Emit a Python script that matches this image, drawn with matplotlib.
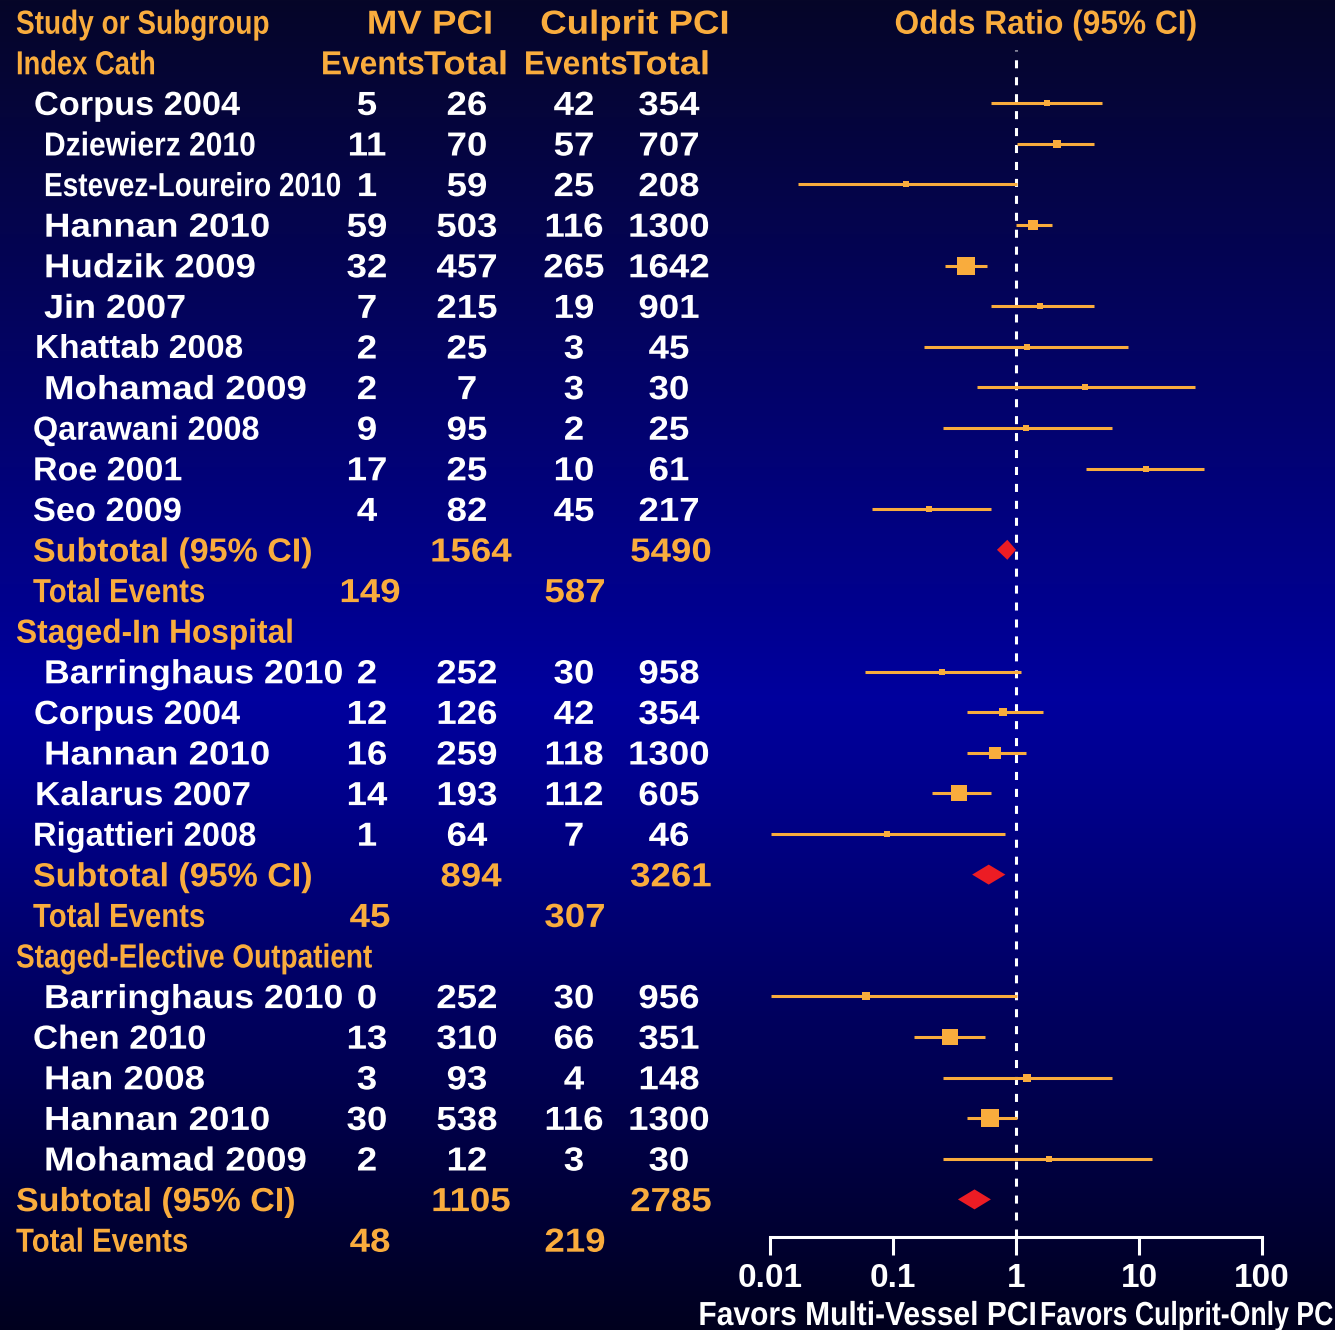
import matplotlib
matplotlib.use("Agg")
import matplotlib.pyplot as plt
import numpy as np
from matplotlib.patches import Polygon
from matplotlib.patheffects import AbstractPathEffect
from matplotlib.transforms import Affine2D
from matplotlib.ticker import NullLocator, FixedLocator, FixedFormatter

plt.rcParams['font.family'] = ['Liberation Sans', 'DejaVu Sans']
plt.rcParams['font.weight'] = 'bold'
plt.rcParams['lines.scale_dashes'] = False

# ---- data ----
g1_names = ["Corpus 2004", "Dziewierz 2010", "Estevez-Loureiro 2010", "Hannan 2010",
            "Hudzik 2009", "Jin 2007", "Khattab 2008", "Mohamad 2009",
            "Qarawani 2008", "Roe 2001", "Seo 2009"]
g1_mv_events = [5, 11, 1, 59, 32, 7, 2, 2, 9, 17, 4]
g1_mv_total = [26, 70, 59, 503, 457, 215, 25, 7, 95, 25, 82]
g1_cul_events = [42, 57, 25, 116, 265, 19, 3, 3, 2, 10, 45]
g1_cul_total = [354, 707, 208, 1300, 1642, 901, 45, 30, 25, 61, 217]
g1_or = [1.78, 2.15, 0.127, 1.37, 0.39, 1.57, 1.24, 3.63, 1.2, 11.3, 0.196]
g1_lo = [0.63, 1.02, 0.017, 1.0, 0.265, 0.63, 0.18, 0.48, 0.255, 3.71, 0.067]
g1_hi = [5.0, 4.27, 1.01, 1.98, 0.58, 4.27, 8.09, 28.4, 6.03, 33.8, 0.63]
g1_weight = [5, 7, 6, 10, 18, 5, 5, 5, 6, 6, 6]
g1_sub = [0.85, 0.70, 1.0]          # pooled OR, lower, upper
g1_sub_totals = [1564, 5490]
g1_sub_events = [149, 587]

g2_title = "Staged-In Hospital"
g2_names = ["Barringhaus 2010", "Corpus 2004", "Hannan 2010", "Kalarus 2007", "Rigattieri 2008"]
g2_mv_events = [2, 12, 16, 14, 1]
g2_mv_total = [252, 126, 259, 193, 64]
g2_cul_events = [30, 42, 118, 112, 7]
g2_cul_total = [958, 354, 1300, 605, 46]
g2_or = [0.249, 0.79, 0.68, 0.347, 0.089]
g2_lo = [0.059, 0.40, 0.40, 0.207, 0.0102]
g2_hi = [1.09, 1.65, 1.2, 0.63, 0.81]
g2_weight = [6, 7, 11, 15, 6]
g2_sub = [0.60, 0.44, 0.82]
g2_sub_totals = [894, 3261]
g2_sub_events = [45, 307]

g3_title = "Staged-Elective Outpatient"
g3_names = ["Barringhaus 2010", "Chen 2010", "Han 2008", "Hannan 2010", "Mohamad 2009"]
g3_mv_events = [0, 13, 3, 30, 2]
g3_mv_total = [252, 310, 93, 538, 12]
g3_cul_events = [30, 66, 4, 116, 3]
g3_cul_total = [956, 351, 148, 1300, 30]
g3_or = [0.060, 0.29, 1.23, 0.61, 1.84]
g3_lo = [0.0102, 0.147, 0.255, 0.40, 0.255]
g3_hi = [1.01, 0.557, 6.03, 1.01, 12.7]
g3_weight = [8, 15, 7, 18, 6]
g3_sub = [0.46, 0.337, 0.625]
g3_sub_totals = [1105, 2785]
g3_sub_events = [48, 219]

x_ticks = [0.01, 0.1, 1, 10, 100]
x_ticklabels = ["0.01", "0.1", "1", "10", "100"]

# ---- layout ----
W, H = 1335, 1330
ROW0, DY = 22, 40.6
ORANGE = "#F9AC3D"
RED = "#EC1C24"
FS = 24

# the original slide squeezes/stretches some strings: (left x, horizontal scale)
NAME_STYLE = {
    "Corpus 2004": (34, 1.03), "Dziewierz 2010": (44, 0.9),
    "Estevez-Loureiro 2010": (44, 0.84), "Hannan 2010": (44, 1.1),
    "Hudzik 2009": (44, 1.1), "Jin 2007": (44, 1.08), "Khattab 2008": (35, 1.0),
    "Mohamad 2009": (44, 1.1), "Qarawani 2008": (33, 0.97), "Roe 2001": (33, 1.02),
    "Seo 2009": (33, 1.03), "Barringhaus 2010": (44, 1.07), "Kalarus 2007": (35, 1.05),
    "Rigattieri 2008": (33, 0.98), "Chen 2010": (33, 1.04), "Han 2008": (44, 1.1),
}


class Squeeze(AbstractPathEffect):
    """Scale text glyphs horizontally about left / centre / right."""

    def __init__(self, sx, anchor="left"):
        super().__init__()
        self.sx, self.anchor = sx, anchor

    def draw_path(self, renderer, gc, tpath, affine, rgbFace=None):
        ext = tpath.get_extents()
        x0 = {"left": 0.0, "center": (ext.x0 + ext.x1) / 2, "right": ext.x1}[self.anchor]
        t = Affine2D().translate(-x0, 0).scale(self.sx, 1).translate(x0, 0) + affine
        renderer.draw_path(gc, tpath, t, rgbFace)


def row_of(px):
    return (px - ROW0) / DY


fig = plt.figure(figsize=(W / 100, H / 100), dpi=100)

# background gradient
bg = fig.add_axes([0, 0, 1, 1])
yy = np.arange(H)
stops = [0, 700, H]
grad = np.zeros((H, 1, 3))
grad[:, 0, 0] = np.interp(yy, stops, [6, 0, 0]) / 255
grad[:, 0, 1] = np.interp(yy, stops, [6, 0, 0]) / 255
grad[:, 0, 2] = np.interp(yy, stops, [40, 158, 30]) / 255
bg.imshow(grad, aspect="auto", extent=[0, 1, 0, 1])
bg.axis("off")

# table axes (x in pixel columns, y in rows)
tab = fig.add_axes([0, 0, 1, 1])
tab.set_xlim(0, W)
tab.set_ylim(row_of(H), row_of(0))
tab.axis("off")

BASE = 11.7 / DY   # baseline offset below row centre


def put(x, row, s, color="white", ha="left", sx=1.0):
    t = tab.text(x, row + BASE, s, color=color, ha=ha, va="baseline", fontsize=FS,
                 fontweight="bold")
    if sx != 1.0:
        t.set_path_effects([Squeeze(sx, ha)])
    return t


COLS = [367, 467, 574, 669]
NUM_SX = 1.1

# headers
put(16, 0, "Study or Subgroup", ORANGE, sx=0.84)
put(430, 0, "MV PCI", ORANGE, ha="center", sx=1.1)
put(635, 0, "Culprit PCI", ORANGE, ha="center", sx=1.1)
put(1046, 0, "Odds Ratio (95% CI)", ORANGE, ha="center", sx=0.95)
put(16, 1, "Index Cath", ORANGE, sx=0.82)
put(373, 1, "Events", ORANGE, ha="center", sx=0.95)
put(466, 1, "Total", ORANGE, ha="center", sx=1.09)
put(576, 1, "Events", ORANGE, ha="center", sx=0.95)
put(668, 1, "Total", ORANGE, ha="center", sx=1.09)

# forest axes
fx0, fx1, fy1 = 770, 1262, 1237
ax = fig.add_axes([fx0 / W, (H - fy1) / H, (fx1 - fx0) / W, fy1 / H])
ax.set_xscale("log")
ax.set_xlim(0.01, 100)
ax.set_ylim(row_of(fy1), row_of(0))
ax.patch.set_visible(False)
for side in ["top", "left", "right"]:
    ax.spines[side].set_visible(False)
ax.spines["bottom"].set_color("white")
ax.spines["bottom"].set_linewidth(2.2)
ax.xaxis.set_major_locator(FixedLocator(x_ticks))
ax.xaxis.set_major_formatter(FixedFormatter(x_ticklabels))
ax.xaxis.set_minor_locator(NullLocator())
ax.set_yticks([])
ax.tick_params(axis="x", direction="out", length=13, width=2.2, color="white",
               labelcolor="white", labelsize=FS, pad=6)
for lab in ax.get_xticklabels():
    lab.set_fontweight("bold")

ax.axvline(1, ymin=0, ymax=(fy1 - 50) / fy1, color="white", lw=2.2,
           dashes=(5.8, 6.4), zorder=1)


def draw_group(start, names, mve, mvt, cue, cut, ors, los, his, wts,
               sub, sub_totals, sub_events, sub_x):
    for i, nm in enumerate(names):
        r = start + i
        nx, nsx = NAME_STYLE.get(nm, (44, 1.0))
        put(nx, r, nm, sx=nsx)
        for cx, v in zip(COLS, [mve[i], mvt[i], cue[i], cut[i]]):
            put(cx, r, str(v), ha="center", sx=NUM_SX)
        ax.hlines(r, los[i], his[i], color=ORANGE, lw=2.2, zorder=2)
        ax.plot(ors[i], r, marker="s", ms=wts[i] * 0.75, color=ORANGE,
                mew=0, zorder=3)
    r = start + len(names)
    put(sub_x, r, "Subtotal (95% CI)", ORANGE, sx=1.02)
    put(COLS[1] + 4, r, str(sub_totals[0]), ORANGE, ha="center", sx=NUM_SX)
    put(COLS[3] + 2, r, str(sub_totals[1]), ORANGE, ha="center", sx=NUM_SX)
    est, lo, hi = sub
    h = 10 / DY
    ax.add_patch(Polygon([[lo, r], [est, r - h], [hi, r], [est, r + h]],
                         closed=True, color=RED, lw=0, zorder=3))
    put(sub_x, r + 1, "Total Events", ORANGE, sx=0.88)
    put(COLS[0] + 3, r + 1, str(sub_events[0]), ORANGE, ha="center", sx=NUM_SX)
    put(COLS[2] + 1, r + 1, str(sub_events[1]), ORANGE, ha="center", sx=NUM_SX)


draw_group(2, g1_names, g1_mv_events, g1_mv_total, g1_cul_events, g1_cul_total,
           g1_or, g1_lo, g1_hi, g1_weight, g1_sub, g1_sub_totals, g1_sub_events, 33)
put(16, 15, g2_title, ORANGE, sx=0.95)
draw_group(16, g2_names, g2_mv_events, g2_mv_total, g2_cul_events, g2_cul_total,
           g2_or, g2_lo, g2_hi, g2_weight, g2_sub, g2_sub_totals, g2_sub_events, 33)
put(16, 23, g3_title, ORANGE, sx=0.84)
draw_group(24, g3_names, g3_mv_events, g3_mv_total, g3_cul_events, g3_cul_total,
           g3_or, g3_lo, g3_hi, g3_weight, g3_sub, g3_sub_totals, g3_sub_events, 16)

# direction labels under the axis
t1 = fig.text(1038 / W, (H - 1325) / H, "Favors Multi-Vessel PCI", color="white",
              ha="right", va="baseline", fontsize=FS, fontweight="bold")
t1.set_path_effects([Squeeze(0.9, "right")])
t2 = fig.text(1040 / W, (H - 1325) / H, "Favors Culprit-Only PCI", color="white",
              ha="left", va="baseline", fontsize=FS, fontweight="bold")
t2.set_path_effects([Squeeze(0.8, "left")])

fig.savefig("out.png", dpi=100)
